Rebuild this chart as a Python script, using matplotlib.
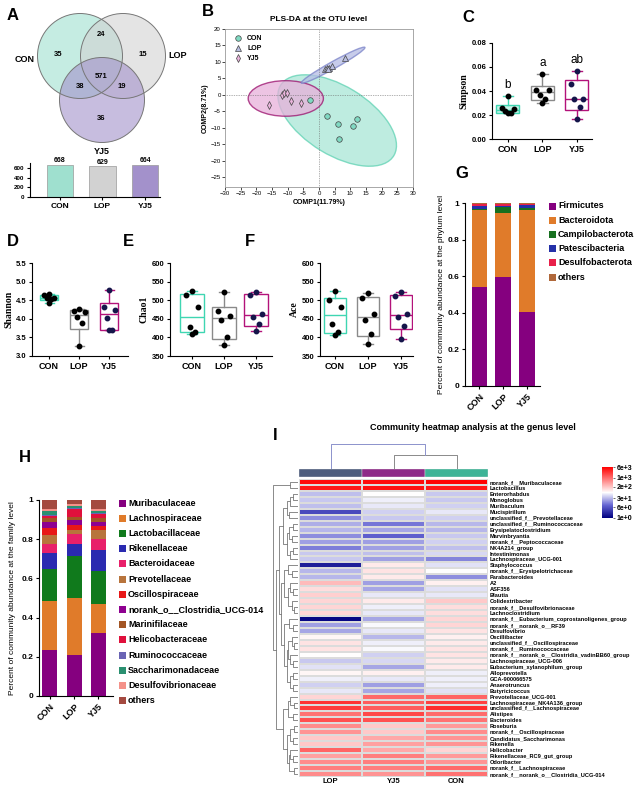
import numpy as np
import matplotlib
matplotlib.use('Agg')
import matplotlib.pyplot as plt
from matplotlib.patches import Circle, Ellipse, Rectangle
from matplotlib.colors import LinearSegmentedColormap
import matplotlib.lines as mlines

plt.rcParams['font.family'] = ['Liberation Sans', 'DejaVu Sans']
plt.rcParams['axes.linewidth'] = 0.8

W, H = 636, 788

# ---------------- data ----------------
groups = ['CON', 'LOP', 'YJ5']

# A: venn (CON only, CON&LOP, LOP only, all three, CON&YJ5, LOP&YJ5, YJ5 only)
venn_counts = [35, 24, 15, 571, 38, 19, 36]
otu_totals = [668, 629, 664]

# B: PLS-DA scores
con_x = [-3.0, 2.5, 6.0, 6.5, 11.0, 12.2]
con_y = [-1.5, -6.5, -8.8, -13.5, -9.6, -7.2]
lop_x = [2.0, 2.6, 3.1, 4.2, 8.2, 2.9]
lop_y = [7.8, 8.1, 8.3, 8.8, 11.1, 7.9]
yj5_x = [-16.0, -11.7, -11.2, -10.2, -8.8, -5.6]
yj5_y = [-3.0, 0.0, 0.5, 0.5, -2.0, -2.4]
# ellipses: centre x, centre y, width, height, angle
con_ell = [5.8, -7.8, 42.0, 21.0, -30]
lop_ell = [4.5, 9.0, 23.0, 2.2, 28]
yj5_ell = [-10.6, -1.1, 24.0, 10.8, 0]

# C-F: alpha diversity (6 mice per group)
simpson = {'CON': [0.036, 0.0255, 0.025, 0.0235, 0.022, 0.0215],
           'LOP': [0.054, 0.041, 0.041, 0.037, 0.033, 0.030],
           'YJ5': [0.057, 0.046, 0.033, 0.033, 0.027, 0.017]}
simpson_sig = ['b', 'a', 'ab']
shannon = {'CON': [4.67, 4.63, 4.57, 4.55, 4.52, 4.43],
           'LOP': [4.27, 4.22, 4.18, 4.05, 3.88, 3.28],
           'YJ5': [4.78, 4.32, 4.23, 4.03, 3.70, 3.70]}
chao1 = {'CON': [525, 515, 482, 428, 415, 410],
         'LOP': [522, 470, 458, 448, 402, 380],
         'YJ5': [523, 513, 463, 455, 435, 418]}
ace = {'CON': [525, 500, 482, 437, 415, 407],
       'LOP': [520, 505, 462, 448, 410, 382],
       'YJ5': [521, 512, 463, 455, 430, 395]}

# G: phylum level
phyla = ['Firmicutes', 'Bacteroidota', 'Campilobacterota', 'Patescibacteria',
         'Desulfobacterota', 'others']
firmicutes = [0.540, 0.595, 0.405]
bacteroidota = [0.420, 0.350, 0.555]
campilobacterota = [0.005, 0.035, 0.015]
patescibacteria = [0.020, 0.005, 0.012]
desulfobacterota = [0.010, 0.010, 0.008]
phylum_others = [0.005, 0.005, 0.005]

# H: family level
families = ['Muribaculaceae', 'Lachnospiraceae', 'Lactobacillaceae', 'Rikenellaceae',
            'Bacteroidaceae', 'Prevotellaceae', 'Oscillospiraceae',
            'norank_o__Clostridia_UCG-014', 'Marinifilaceae', 'Helicobacteraceae',
            'Ruminococcaceae', 'Saccharimonadaceae', 'Desulfovibrionaceae', 'others']
family_ab = [[0.235, 0.210, 0.320],
             [0.250, 0.290, 0.150],
             [0.165, 0.215, 0.170],
             [0.080, 0.060, 0.105],
             [0.045, 0.050, 0.055],
             [0.045, 0.020, 0.045],
             [0.035, 0.030, 0.020],
             [0.035, 0.025, 0.025],
             [0.020, 0.015, 0.020],
             [0.010, 0.040, 0.020],
             [0.005, 0.005, 0.005],
             [0.020, 0.010, 0.010],
             [0.010, 0.010, 0.010],
             [0.045, 0.020, 0.045]]

# I: genus heatmap (log10 abundance), columns ordered LOP, YJ5, CON
hm_cols = ['LOP', 'YJ5', 'CON']
genera = ['norank_f__Muribaculaceae', 'Lactobacillus', 'Enterorhabdus', 'Monoglobus',
          'Muribaculum', 'Mucispirillum', 'unclassified_f__Prevotellaceae',
          'unclassified_f__Ruminococcaceae', 'Erysipelatoclostridium', 'Marvinbryantia',
          'norank_f__Peptococcaceae', 'NK4A214_group', 'Intestinimonas',
          'Lachnospiraceae_UCG-001', 'Staphylococcus', 'norank_f__Erysipelotrichaceae',
          'Parabacteroides', 'A2', 'ASF356', 'Blautia', 'Colidextribacter',
          'norank_f__Desulfovibrionaceae', 'Lachnoclostridium',
          'norank_f__Eubacterium_coprostanoligenes_group', 'norank_f__norank_o__RF39',
          'Desulfovibrio', 'Oscillibacter', 'unclassified_f__Oscillospiraceae',
          'norank_f__Ruminococcaceae', 'norank_f__norank_o__Clostridia_vadinBB60_group',
          'Lachnospiraceae_UCG-006', 'Eubacterium_xylanophilum_group', 'Alloprevotella',
          'GCA-900066575', 'Anaerotruncus', 'Butyricicoccus', 'Prevotellaceae_UCG-001',
          'Lachnospiraceae_NK4A136_group', 'unclassified_f__Lachnospiraceae', 'Alistipes',
          'Bacteroides', 'Roseburia', 'norank_f__Oscillospiraceae',
          'Candidatus_Saccharimonas', 'Rikenella', 'Helicobacter',
          'Rikenellaceae_RC9_gut_group', 'Odoribacter', 'norank_f__Lachnospiraceae',
          'norank_f__norank_o__Clostridia_UCG-014']
lop_log = [3.70, 3.60, 1.50, 1.55, 1.50, 0.70, 1.20, 1.40, 1.45, 1.20,
           1.30, 1.10, 1.55, 1.55, 0.30, 1.45, 1.45, 2.40, 2.15, 2.25,
           2.20, 2.20, 2.20, 0.05, 1.30, 1.35, 1.95, 2.10, 2.10, 1.90,
           1.55, 1.70, 1.95, 1.80, 1.60, 1.75, 2.20, 3.40, 3.35, 2.95,
           3.20, 2.75, 2.70, 2.30, 2.30, 3.05, 2.60, 2.75, 2.85, 2.75]
yj5_log = [3.70, 3.65, 1.90, 1.80, 1.75, 1.60, 1.55, 1.05, 1.35, 0.90,
           1.30, 1.30, 1.50, 1.30, 2.05, 2.10, 2.05, 1.30, 1.35, 1.75,
           2.05, 1.80, 1.75, 1.35, 1.85, 1.75, 1.45, 1.80, 1.85, 1.60,
           1.65, 1.35, 2.00, 1.75, 1.30, 1.35, 3.00, 3.10, 3.10, 3.25,
           3.20, 2.30, 2.30, 2.55, 2.60, 2.55, 2.85, 2.85, 2.85, 2.70]
con_log = [3.75, 3.60, 1.55, 1.55, 1.60, 1.75, 1.60, 1.45, 1.45, 1.55,
           1.60, 1.50, 1.65, 1.15, 1.70, 1.90, 1.20, 2.00, 1.70, 1.75,
           2.30, 2.15, 2.15, 2.20, 2.20, 2.10, 2.00, 2.05, 2.10, 2.10,
           2.05, 2.05, 1.80, 1.80, 1.80, 1.70, 3.05, 3.30, 3.45, 3.00,
           2.95, 2.65, 2.75, 2.70, 2.70, 2.20, 2.65, 2.70, 3.00, 2.95]
cbar_ticks = [6000, 1000, 200, 30, 6, 1]
cbar_labels = ['6e+3', '1e+3', '2e+2', '3e+1', '6e+0', '1e+0']

# clustering trees [left, right, height]; leaves are row / column indices
g3_7 = [[[2, 3, 0.2], 4, 0.3], [5, 6, 0.35], 0.45]
g8_14 = [[[7, 8, 0.2], [9, 10, 0.25], 0.35], [[11, 12, 0.2], 13, 0.3], 0.45]
g15_23 = [[14, [15, 16, 0.25], 0.4], [[17, [18, 19, 0.2], 0.3], [20, [21, 22, 0.15], 0.25], 0.4], 0.55]
g24_36 = [[23, [24, 25, 0.2], 0.35],
          [[[26, [27, 28, 0.15], 0.25], [29, [30, 31, 0.2], 0.3], 0.4],
           [[32, 33, 0.2], [34, 35, 0.2], 0.3], 0.45], 0.55]
g37_50 = [[[36, [37, 38, 0.15], 0.3], [39, 40, 0.2], 0.4],
          [[[41, 42, 0.15], [43, 44, 0.2], 0.3], [[45, [46, 47, 0.2], 0.3], [48, 49, 0.15], 0.35], 0.45], 0.6]
row_tree = [[0, 1, 0.3], [[[g3_7, g8_14, 0.6], [g15_23, g24_36, 0.65], 0.75], g37_50, 0.85], 1.0]
col_tree = [0, [1, 2, 0.55], 1.0]

# ---------------- styles ----------------
box_cols = ['#3fd6b2', '#8a8a8a', '#b3127a']
venn_cols = ['#9fe0cf', '#d2d2d2', '#a391cb']
phylum_cols = ['#85007f', '#e07b2a', '#17701f', '#2430a8', '#e8204a', '#b0683a']
family_cols = ['#85007f', '#e07b2a', '#107a1c', '#2a2ab0', '#e8206a', '#b8743c',
               '#e81818', '#8e0090', '#a35524', '#e0103c', '#6a64b4', '#2a9070',
               '#f4928a', '#a44a40']
hm_group_cols = ['#4e5d7e', '#8e2a88', '#3db497']
dot_dx = [0.0, -0.18, 0.18, -0.08, 0.08, 0.0]

fig = plt.figure(figsize=(W / 100, H / 100), dpi=100)


def add_ax(l, t, r, b):
    return fig.add_axes([l / W, 1 - b / H, (r - l) / W, (b - t) / H])


def bold_ticks(ax):
    for lab in ax.get_xticklabels() + ax.get_yticklabels():
        lab.set_fontweight('bold')


def prism(ax):
    ax.spines['top'].set_visible(False)
    ax.spines['right'].set_visible(False)
    ax.tick_params(direction='out', length=2.5, width=0.8, pad=1.5)


def panel(x, y, s):
    fig.text(x / W, 1 - y / H, s, fontsize=12, fontweight='bold', ha='center', va='center')


# ---------------- A: venn ----------------
va = add_ax(0, 0, 200, 160)
va.set_xlim(0, 200)
va.set_ylim(160, 0)
va.axis('off')
circ_xy = [(80, 56), (123, 56), (102, 100)]
count_xy = [(58, 55), (101, 35), (143, 55), (101, 77), (80, 87), (122, 87), (101, 118)]
name_xy = [(25, 60), (178, 55), (102, 151)]
for (cx, cy), c in zip(circ_xy, venn_cols):
    va.add_patch(Circle((cx, cy), 42.5, facecolor=c, alpha=0.6, edgecolor='none'))
for (cx, cy) in circ_xy:
    va.add_patch(Circle((cx, cy), 42.5, facecolor='none', edgecolor='#777777', lw=0.7))
for (x, y), n in zip(count_xy, venn_counts):
    va.text(x, y, str(n), fontsize=5.5, fontweight='bold', ha='center', va='center')
for (x, y), g in zip(name_xy, groups):
    va.text(x, y, g, fontsize=6.5, fontweight='bold', ha='center', va='center')

ab = add_ax(30, 163, 160, 197)
xpos = np.arange(3)
ab.bar(xpos, otu_totals, width=0.62, color=venn_cols, edgecolor='#999999', lw=0.5)
for x, v in zip(xpos, otu_totals):
    ab.text(x, v + 8, str(v), ha='center', va='bottom', fontsize=5, fontweight='bold')
ab.set_xlim(-0.7, 2.35)
ab.set_ylim(0, 700)
ab.set_yticks([0, 200, 400, 600])
ab.set_xticks(xpos)
ab.set_xticklabels(groups, fontsize=6)
ab.tick_params(axis='y', labelsize=4.5)
prism(ab)
bold_ticks(ab)

# ---------------- B: PLS-DA ----------------
bx = add_ax(225, 29, 413, 187)
for prm, fc, ec in [(con_ell, '#a8e6d6', '#5fd2b3'), (yj5_ell, '#e7b0da', '#9a0f6c'),
                    (lop_ell, '#b5bce4', '#7a82c8')]:
    bx.add_patch(Ellipse((prm[0], prm[1]), prm[2], prm[3], angle=prm[4], facecolor=fc,
                         alpha=0.75, edgecolor=ec, lw=1.0))
bx.axhline(0, color='#666666', lw=0.5, ls=(0, (1, 1.5)))
bx.axvline(0, color='#666666', lw=0.5, ls=(0, (1, 1.5)))
bx.plot(con_x, con_y, 'o', ms=4, mfc='#80d9c2', mec='#444444', mew=0.5, ls='none', label='CON')
bx.plot(lop_x, lop_y, '^', ms=4, mfc='#b8bde0', mec='#444444', mew=0.5, ls='none', label='LOP')
bx.plot(yj5_x, yj5_y, 'd', ms=4, mfc='#eab4dc', mec='#444444', mew=0.5, ls='none', label='YJ5')
bx.set_xlim(-30, 30)
bx.set_ylim(-28, 20)
bx.set_xticks(np.arange(-30, 31, 5))
bx.set_yticks(np.arange(-25, 21, 5))
bx.tick_params(labelsize=4.3, length=2, width=0.5, pad=1)
for s in bx.spines.values():
    s.set_color('#9a9a9a')
    s.set_linewidth(0.6)
bx.set_xlabel('COMP1(11.79%)', fontsize=5, fontweight='bold', labelpad=2)
bx.set_ylabel('COMP2(8.71%)', fontsize=5, fontweight='bold', labelpad=1)
bx.set_title('PLS-DA at the OTU level', fontsize=6, fontweight='bold', pad=6)
bx.legend(loc='upper left', frameon=False, handletextpad=0.3,
          labelspacing=0.45, borderaxespad=0.5, prop={'weight': 'bold', 'size': 5})


# ---------------- C-F: box plots ----------------
def box_panel(ax, data, width, fills):
    for i, g in enumerate(groups):
        v = np.array(data[g], dtype=float)
        q1, med, q3 = np.percentile(v, [25, 50, 75], method='weibull')
        st = [dict(med=med, q1=q1, q3=q3, whislo=v.min(), whishi=v.max(), fliers=[])]
        c = box_cols[i]
        ax.bxp(st, positions=[i], widths=width, patch_artist=True, showfliers=False,
               capwidths=0.3,
               boxprops=dict(facecolor=fills[i], edgecolor=c, linewidth=1.0),
               medianprops=dict(color=c, linewidth=1.0),
               whiskerprops=dict(color=c, linewidth=1.0),
               capprops=dict(color=c, linewidth=1.0))
        dc = '#15154a' if g == 'YJ5' else '#000000'
        ax.plot(i + np.array(dot_dx), v, 'o', ms=3.2, color=dc, ls='none', zorder=5)
    ax.set_xticks(range(3))
    ax.set_xticklabels(groups, fontsize=6.5)
    ax.tick_params(axis='y', labelsize=5.5)
    prism(ax)
    bold_ticks(ax)


cx = add_ax(492, 43, 592, 139)
box_panel(cx, simpson, 0.66, ['#c5f3e6', 'white', 'white'])
cx.set_xlim(-0.46, 2.44)
cx.set_ylim(0, 0.08)
cx.set_yticks(np.arange(0, 0.081, 0.02))
cx.set_yticklabels(['%.2f' % t for t in np.arange(0, 0.081, 0.02)], fontweight='bold')
cx.set_ylabel('Simpson', fontsize=7, fontweight='bold', family='Liberation Serif', labelpad=2)
for i, g in enumerate(groups):
    cx.text(i, max(simpson[g]) + 0.004, simpson_sig[i], ha='center', va='bottom', fontsize=8.5)

dx = add_ax(32, 263, 128, 356)
box_panel(dx, shannon, 0.62, ['#c5f3e6', 'white', 'white'])
dx.set_xlim(-0.57, 2.63)
dx.set_ylim(3.0, 5.5)
dx.set_yticks(np.arange(3.0, 5.51, 0.5))
dx.set_yticklabels(['%.1f' % t for t in np.arange(3.0, 5.51, 0.5)], fontweight='bold')
dx.set_ylabel('Shannon', fontsize=7, fontweight='bold', family='Liberation Serif', labelpad=2)

ex = add_ax(170, 263, 272, 356)
box_panel(ex, chao1, 0.75, ['white', 'white', 'white'])
ex.set_xlim(-0.69, 2.5)
ex.set_ylim(350, 600)
ex.set_yticks(np.arange(350, 601, 50))
bold_ticks(ex)
ex.set_ylabel('Chao1', fontsize=7, fontweight='bold', family='Liberation Serif', labelpad=2)

fx = add_ax(320, 263, 413, 356)
box_panel(fx, ace, 0.68, ['white', 'white', 'white'])
fx.set_xlim(-0.45, 2.36)
fx.set_ylim(350, 600)
fx.set_yticks(np.arange(350, 601, 50))
bold_ticks(fx)
fx.set_ylabel('Ace', fontsize=7, fontweight='bold', family='Liberation Serif', labelpad=2)


# ---------------- G / H: stacked bars ----------------
def legend_block(l, t, names, cols, step, fs):
    lx = add_ax(l, t, 636, t + step * len(names) + 4)
    lx.set_xlim(l, 636)
    lx.set_ylim(t + step * len(names) + 4, t)
    lx.axis('off')
    for i, (n, c) in enumerate(zip(names, cols)):
        y = t + 4 + i * step
        lx.add_patch(Rectangle((l, y - 3.5), 7, 7, facecolor=c, edgecolor='none'))
        lx.text(l + 9, y, n, fontsize=fs, fontweight='bold', va='center', ha='left')


gx = add_ax(465, 203, 540, 386)
phylum_ab = [firmicutes, bacteroidota, campilobacterota, patescibacteria,
             desulfobacterota, phylum_others]
bottom = np.zeros(3)
for vals, c in zip(phylum_ab, phylum_cols):
    gx.bar(xpos, vals, bottom=bottom, width=0.65, color=c, edgecolor='none')
    bottom += np.array(vals)
gx.set_xlim(-0.61, 2.55)
gx.set_ylim(0, 1)
gx.set_yticks([0, 0.2, 0.4, 0.6, 0.8, 1.0])
gx.set_yticklabels(['0', '0.2', '0.4', '0.6', '0.8', '1'], fontsize=6)
gx.set_xticks(xpos)
gx.set_xticklabels(groups, fontsize=6.5, rotation=45, ha='right', rotation_mode='anchor')
prism(gx)
bold_ticks(gx)
gx.set_ylabel('Percent of community abundance at the phylum level', fontsize=6, labelpad=2)
legend_block(549, 202, phyla, phylum_cols, 14.2, 6.5)

hx = add_ax(39, 500, 113, 696)
bottom = np.zeros(3)
for vals, c in zip(family_ab, family_cols):
    hx.bar(xpos, vals, bottom=bottom, width=0.62, color=c, edgecolor='none')
    bottom += np.array(vals)
hx.set_xlim(-0.45, 2.6)
hx.set_ylim(0, 1)
hx.set_yticks([0, 0.2, 0.4, 0.6, 0.8, 1.0])
hx.set_yticklabels(['0', '0.2', '0.4', '0.6', '0.8', '1'], fontsize=6)
hx.set_xticks(xpos)
hx.set_xticklabels(groups, fontsize=6.5, rotation=45, ha='right', rotation_mode='anchor')
prism(hx)
bold_ticks(hx)
hx.set_ylabel('Percent of community abundance at the family level', fontsize=6, labelpad=4)
legend_block(119, 499, families, family_cols, 15.2, 6.5)

# ---------------- I: heatmap ----------------
hm_vals = np.array([lop_log, yj5_log, con_log]).T
cmap = LinearSegmentedColormap.from_list('hm', [(0, '#00007f'), (0.25, '#6464d2'), (0.5, '#ffffff'),
                                                (0.75, '#ff8282'), (1.0, '#ff0000')])
vmax = np.log10(cbar_ticks[0])
ix = add_ax(299, 479, 488, 777)
mesh = ix.pcolormesh(hm_vals, cmap=cmap, vmin=0, vmax=vmax, edgecolors='#dcdcdc', linewidth=0.3)
ix.set_xlim(0, 3)
ix.set_ylim(len(genera), 0)
ix.set_yticks(np.arange(len(genera)) + 0.5)
ix.set_yticklabels(genera, fontsize=4.1, fontweight='bold')
ix.yaxis.tick_right()
ix.set_xticks(np.arange(3) + 0.5)
ix.set_xticklabels(hm_cols, fontsize=5.5, fontweight='bold')
ix.tick_params(length=0, pad=1.5)
ix.tick_params(axis='x', pad=1)
for s in ix.spines.values():
    s.set_visible(False)

gb = add_ax(299, 469, 488, 477)
gb.bar(np.arange(3) + 0.5, [1, 1, 1], width=1, color=hm_group_cols, edgecolor='#dddddd', lw=0.3)
gb.set_xlim(0, 3)
gb.set_ylim(0, 1)
gb.axis('off')


def dendro(ax, node, orient, color, top_color=None):
    if isinstance(node, int):
        return node + 0.5, 0.0
    a, b, h = node
    pa, ha = dendro(ax, a, orient, color)
    pb, hb = dendro(ax, b, orient, color)
    c = top_color if top_color else color
    if orient == 'left':
        ax.plot([ha, h, h, hb], [pa, pa, pb, pb], color=c, lw=0.6)
    else:
        ax.plot([pa, pa, pb, pb], [ha, h, h, hb], color=c, lw=0.7)
    return (pa + pb) / 2, h


cd = add_ax(299, 443, 488, 469)
dendro(cd, col_tree, 'top', '#8a8a8a', top_color='#8c92cc')
cd.set_xlim(0, 3)
cd.set_ylim(0, 1.02)
cd.axis('off')

rd = add_ax(272, 479, 298, 777)
dendro(rd, row_tree, 'left', '#777777')
rd.set_xlim(1.02, 0)
rd.set_ylim(len(genera), 0)
rd.axis('off')

cb = add_ax(602, 467, 613, 518)
cbar = fig.colorbar(mesh, cax=cb)
cbar.set_ticks(np.log10(cbar_ticks))
cbar.set_ticklabels(cbar_labels)
cbar.outline.set_visible(False)
cb.tick_params(labelsize=5, length=1.5, width=0.4, pad=1)
bold_ticks(cb)

fig.text(473 / W, 1 - 428 / H, 'Community heatmap analysis at the genus level',
         fontsize=6.5, fontweight='bold', ha='center', va='center')

# panel letters
panel(13, 16, 'A')
panel(208, 11, 'B')
panel(468, 17, 'C')
panel(13, 242, 'D')
panel(128, 242, 'E')
panel(250, 242, 'F')
panel(462, 173, 'G')
panel(25, 457, 'H')
panel(275, 436, 'I')

fig.savefig('out.png', dpi=100)
